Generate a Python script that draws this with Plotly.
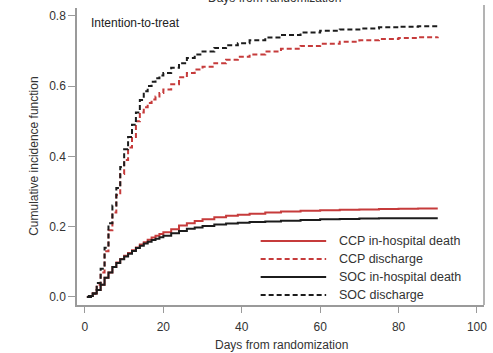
import plotly.graph_objects as go

# Days and cumulative incidence
days = [0.5, 1, 2, 3, 4, 5, 6, 7, 8, 9, 10, 11, 12, 13, 14, 15, 16, 17, 18, 19, 20,
        22, 24, 26, 28, 30, 33, 36, 39, 42, 46, 50, 55, 60, 65, 70, 75, 80, 85, 90]

soc_discharge = [0, 0, 0.01, 0.04, 0.08, 0.14, 0.21, 0.26, 0.31, 0.37, 0.42, 0.455, 0.49,
                 0.525, 0.56, 0.585, 0.6, 0.612, 0.622, 0.63, 0.637, 0.652, 0.665, 0.68,
                 0.69, 0.698, 0.708, 0.716, 0.722, 0.73, 0.738, 0.745, 0.752, 0.757,
                 0.761, 0.764, 0.767, 0.769, 0.77, 0.771]

ccp_discharge = [0, 0, 0.01, 0.035, 0.07, 0.13, 0.19, 0.24, 0.29, 0.35, 0.39, 0.425, 0.455,
                 0.5, 0.525, 0.54, 0.552, 0.562, 0.57, 0.58, 0.59, 0.605, 0.625, 0.637,
                 0.647, 0.655, 0.665, 0.675, 0.683, 0.69, 0.698, 0.706, 0.714, 0.72,
                 0.726, 0.73, 0.734, 0.737, 0.739, 0.74]

soc_death = [0, 0.003, 0.01, 0.02, 0.035, 0.055, 0.07, 0.085, 0.097, 0.107, 0.115, 0.123,
             0.131, 0.139, 0.146, 0.152, 0.157, 0.162, 0.166, 0.17, 0.174, 0.181, 0.188,
             0.194, 0.198, 0.202, 0.206, 0.209, 0.211, 0.213, 0.215, 0.217, 0.219, 0.221,
             0.222, 0.223, 0.224, 0.224, 0.224, 0.224]

ccp_death = [0, 0.003, 0.01, 0.02, 0.035, 0.055, 0.07, 0.085, 0.098, 0.108, 0.117, 0.125,
             0.133, 0.141, 0.149, 0.156, 0.163, 0.169, 0.174, 0.179, 0.184, 0.193, 0.203,
             0.21, 0.216, 0.221, 0.227, 0.231, 0.234, 0.237, 0.24, 0.243, 0.245, 0.247,
             0.248, 0.249, 0.25, 0.251, 0.252, 0.252]

x_ticks = [0, 20, 40, 60, 80, 100]
y_ticks = [0.0, 0.2, 0.4, 0.6, 0.8]
y_tick_labels = ["0.0", "0.2", "0.4", "0.6", "0.8"]

RED = "#c63b3b"
BLACK = "#1c1c1c"
GRAY = "#9a9a9a"
TXT = "#333333"
FONT = "Liberation Sans, Arial, sans-serif"
DASH = "5px,3px"

series = [
    ("CCP in-hospital death", ccp_death, RED, "solid"),
    ("CCP discharge", ccp_discharge, RED, DASH),
    ("SOC in-hospital death", soc_death, BLACK, "solid"),
    ("SOC discharge", soc_discharge, BLACK, DASH),
]

fig = go.Figure()
for name, vals, col, dash in series:
    fig.add_trace(go.Scatter(x=days, y=vals, mode="lines", name=name,
                             line=dict(color=col, width=2, dash=dash, shape="hv"),
                             showlegend=False))

W, H = 493, 353
L, R, T, B = 77, 6, 8, 48
pw, ph = W - L - R, H - T - B


def px(xp):
    return (xp - L) / pw


def py(yp):
    return (H - B - yp) / ph


fig.update_layout(
    width=W, height=H,
    margin=dict(l=L, r=R, t=T, b=B),
    paper_bgcolor="white", plot_bgcolor="white",
    font=dict(family=FONT, size=12, color=TXT),
    xaxis=dict(range=[-2.03, 101.8], tickvals=x_ticks, ticks="outside", ticklen=6,
               tickcolor=GRAY, tickwidth=1.2, showline=True, linecolor=GRAY, linewidth=1.5,
               showgrid=False, zeroline=False, ticklabelstandoff=4,
               tickfont=dict(size=12, color=TXT)),
    yaxis=dict(range=[-0.0228, 0.822], tickvals=y_ticks, ticktext=y_tick_labels,
               ticks="outside", ticklen=7, tickcolor=GRAY, tickwidth=1.2, showline=True,
               linecolor=GRAY, linewidth=1.5, showgrid=False, zeroline=False,
               tickfont=dict(size=12, color=TXT)),
    showlegend=False,
)

# right border
fig.add_shape(type="line", xref="paper", yref="paper", x0=1, x1=1, y0=0, y1=py(5),
              line=dict(color=GRAY, width=1.5))

# manual legend
leg_y = [241, 259, 277, 295]
for (name, vals, col, dash), yy in zip(series, leg_y):
    fig.add_shape(type="line", xref="paper", yref="paper", x0=px(262), x1=px(328),
                  y0=py(yy), y1=py(yy), line=dict(color=col, width=2, dash=dash))
    fig.add_annotation(xref="paper", yref="paper", x=px(339), y=py(yy), text=name,
                       showarrow=False, xanchor="left", yanchor="middle",
                       font=dict(size=12.5, color=TXT))

fig.add_annotation(xref="paper", yref="paper", x=px(89), y=py(23), text="Intention-to-treat",
                   showarrow=False, xanchor="left", yanchor="middle",
                   font=dict(size=12, color="#222222"))

# axis titles
fig.add_annotation(xref="paper", yref="paper", x=px(283), y=py(345),
                   text="Days from randomization", showarrow=False,
                   xanchor="center", yanchor="middle", font=dict(size=12, color=TXT))
fig.add_annotation(xref="paper", yref="paper", x=px(33), y=0.5,
                   text="Cumulative incidence function", showarrow=False, textangle=-90,
                   xanchor="center", yanchor="middle", font=dict(size=12, color=TXT))
# cut-off title of the panel above
fig.add_annotation(xref="paper", yref="paper", x=px(276), y=py(-2),
                   text="Days from randomization", showarrow=False,
                   xanchor="center", yanchor="middle", font=dict(size=12, color=TXT))

fig.write_html("out.html", config={"displayModeBar": False},
               post_script="document.body.style.margin='0';document.body.style.overflow='hidden';")
